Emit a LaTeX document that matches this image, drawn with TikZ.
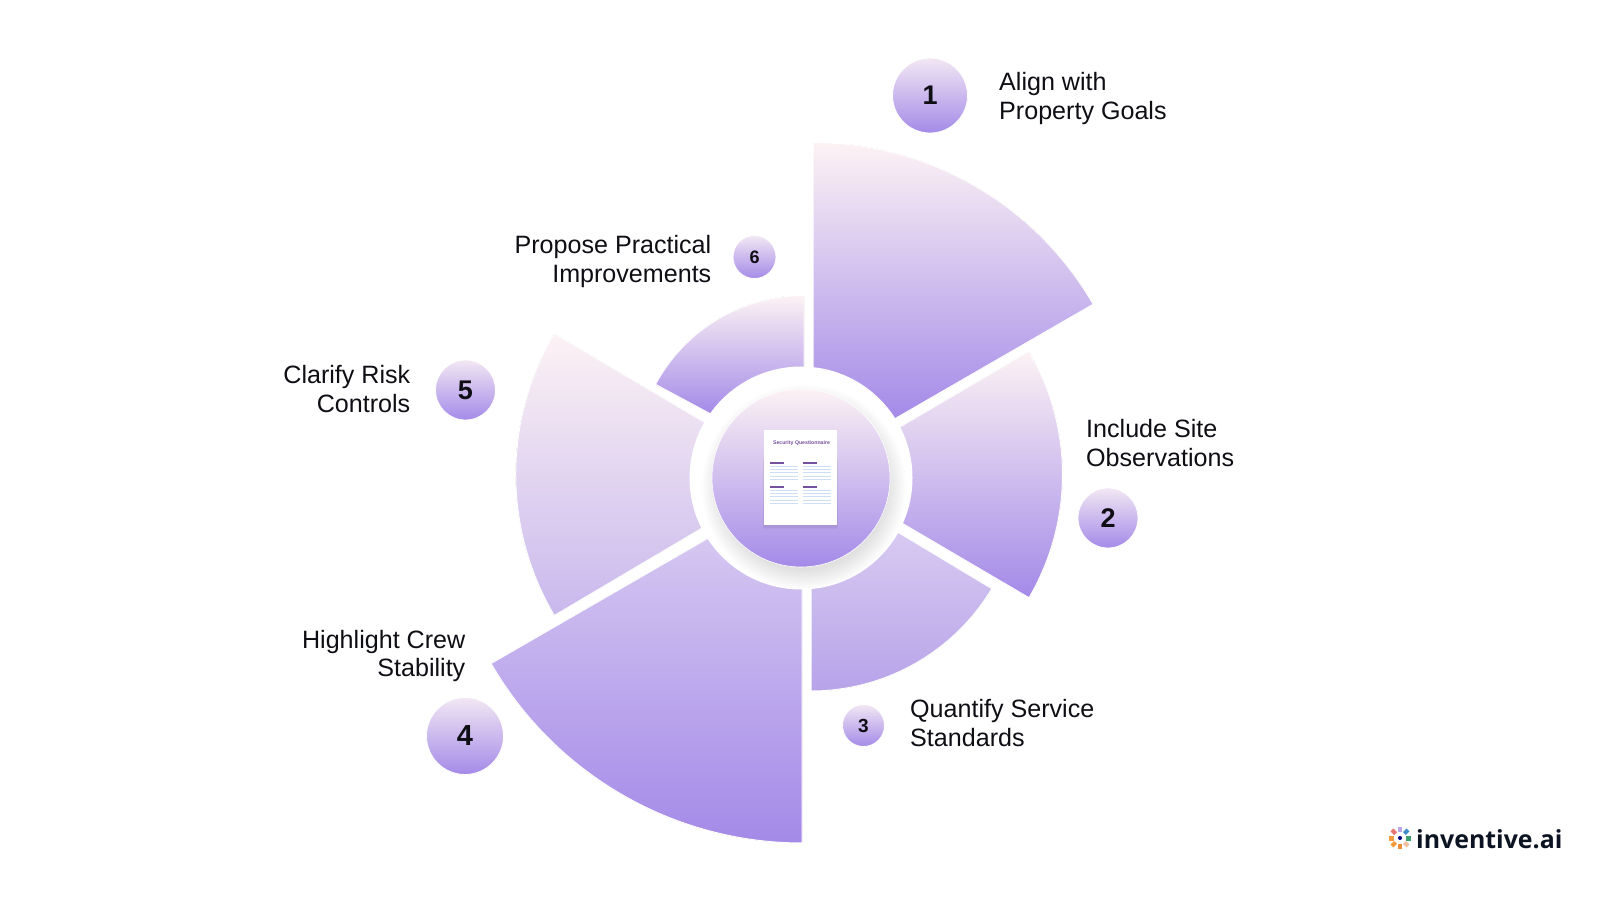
\documentclass[tikz,border=0pt]{standalone}
\usepackage{fontspec}
\setmainfont{Liberation Sans}
\newfontfamily\logofont{Open Sans}
\definecolor{pinkT}{HTML}{FCF2F4}
\definecolor{purpB}{HTML}{A48AE8}
\definecolor{midA}{HTML}{DACDF2}
\definecolor{midB}{HTML}{B7A3E9}
\definecolor{midC}{HTML}{D6C8F1}
\definecolor{midD}{HTML}{C9B8ED}
\definecolor{inkT}{HTML}{0E0E14}
\definecolor{logoInk}{HTML}{0C1424}
\definecolor{docP}{HTML}{74509F}
\definecolor{docL}{HTML}{CFDFF3}
\newcommand{\sectorfill}[9]{% apexx apexy r a1 a2 ytop ybot top bottom
 \begin{scope}
 \clip (#1,#2) -- ++(#4:#3 pt) arc[start angle=#4,end angle=#5,radius=#3 pt] -- cycle;
 \fill[top color=#8,bottom color=#9] (400,#6) rectangle (1200,#7);
 \end{scope}
 \draw[white,line width=1pt,line join=round] (#1,#2) -- ++(#4:#3 pt) arc[start angle=#4,end angle=#5,radius=#3 pt] -- cycle;}
\tikzset{x=1pt,y=1pt,
 label text/.style={font=\fontsize{25.1}{28.5}\selectfont,text=inkT,inner sep=0pt},
 num text/.style={font=\bfseries\fontsize{#1}{#1}\selectfont,text=inkT,circle,inner sep=0pt,
   draw=white,line width=.8pt,top color=pinkT!70!midA,bottom color=purpB,text depth=0pt},
 doc line/.style={draw=docL,line width=0.9pt},
 doc head/.style={draw=docP,line width=1.2pt},
}
\begin{document}
\begin{tikzpicture}
\useasboundingbox (0,0) rectangle (1600,900);
\fill[white] (0,0) rectangle (1600,900);
% sectors (y measured upward)
\sectorfill{813}{434}{323.5}{30}{90}{756}{482}{pinkT}{purpB}
\sectorfill{819}{425.5}{243.5}{-30.4}{30.4}{548}{303}{pinkT}{purpB}
\sectorfill{811}{420}{211}{-90}{-31}{380}{209}{midA}{midB}
\sectorfill{802}{416}{359}{210}{270}{370}{58}{midC}{purpB}
\sectorfill{792.7}{425.5}{277}{149.4}{210.6}{566}{285}{pinkT}{midD}
\sectorfill{804}{436}{168.5}{90}{151.8}{604}{487}{pinkT}{purpB}
% hub
\fill[white] (801,422) circle[radius=111.5];
\begin{scope}
 \clip (801,422) circle[radius=111];
 \foreach \r in {84,86,...,102}{\fill[black,opacity=.012] (804,413) circle[radius=\r];}
\end{scope}
\node[circle,minimum size=178pt,inner sep=0pt,draw=white,line width=.6pt,top color=pinkT,bottom color=purpB] (hub) at (801,422) {};
% document
\foreach \g in {0,1,...,4}{\fill[black,opacity=.03] (764.5-\g*.4,376-\g*1.2) rectangle (836.5+\g*.4,440);}
\node[fill=white,minimum width=73pt,minimum height=95pt,inner sep=0pt] (doc) at (800.5,422.5) {};
\node[font=\bfseries\fontsize{5.2}{6}\selectfont,text=docP,inner sep=0pt] (doctitle) at (801.5,457) {Security Questionnaire};
\foreach \x in {770,802.5}{
 \foreach \y in {437,413}{
  \draw[doc head] (\x,\y) -- ++(14,0);
  \foreach \i in {1,...,5}{\draw[doc line] (\x,\y-3.3*\i) -- ++(28,0);}
 }
}
% numbered badges
\node[num text=27,minimum size=75pt] (n1) at (930,804.5) {1};
\node[num text=27,minimum size=60pt] (n2) at (1108,382) {2};
\node[num text=19,minimum size=42pt] (n3) at (863.5,174.5) {3};
\node[num text=29,minimum size=77pt] (n4) at (465,164) {4};
\node[num text=27,minimum size=60pt] (n5) at (465.5,510) {5};
\node[num text=18,minimum size=43pt] (n6) at (754.5,643) {6};
% labels
\node[label text,anchor=west,align=left] (t1) at (999,801.7) {Align with\\Property Goals};
\node[label text,anchor=west,align=left] (t2) at (1086,457) {Include Site\\Observations};
\node[label text,anchor=west,align=left] (t3) at (910,177) {Quantify Service\\Standards};
\node[label text,anchor=east,align=right] (t4) at (465.5,244) {Highlight Crew\\Stability};
\node[label text,anchor=east,align=right] (t5) at (410.5,511) {Clarify Risk\\Controls};
\node[label text,anchor=east,align=right] (t6) at (711.5,638.5) {Propose Practical\\Improvements};
% logo
\node[font=\logofont\bfseries\fontsize{24.9}{28}\selectfont,text=logoInk,anchor=west,inner sep=0pt] (logo) at (1416,61) {inventive.ai};
\coordinate (lc) at (1400,62);
\fill[color=blue!50!black] (lc) circle[radius=2];
\foreach \a/\c/\w in {180/F29A3D/5,135/E8746E/4,90/B9A7E8/4,45/3E8FC9/4,0/3F9E6F/5,-45/F0BFA0/4,-90/F08C35/4,-135/F39A3A/4}{
 \definecolor{tilec}{HTML}{\c}
 \draw[tilec,line width=\w pt] (lc) ++(\a:6.2) -- ++(\a:5.2);
}
\end{tikzpicture}
\end{document}
